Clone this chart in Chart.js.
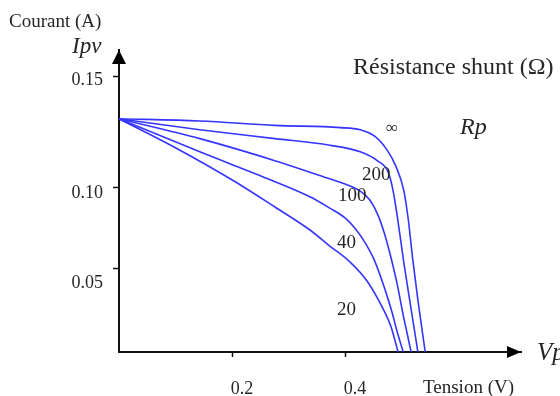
<!DOCTYPE html>
<html>
<head>
<meta charset="utf-8">
<script src="https://cdn.jsdelivr.net/npm/chart.js@4/dist/chart.umd.min.js"></script>
<style>
  body { margin: 0; background: #fff; }
  canvas { display: block; }
</style>
</head>
<body>
<canvas id="ipv" width="560" height="396"></canvas>
<script>
// Shunt resistance values (one curve each)
const shuntLabels = ['∞', '200', '100', '40', '20'];

// Tension (V) and Courant (A), per curve
const vInf = [0, 0.143, 0.276, 0.391, 0.427, 0.453, 0.474, 0.490, 0.504, 0.512, 0.520, 0.529, 0.542];
const iInf = [0.131, 0.130, 0.128, 0.127, 0.126, 0.123, 0.117, 0.1095, 0.098, 0.080, 0.055, 0.031, 0];

const v200 = [0, 0.143, 0.276, 0.373, 0.427, 0.457, 0.476, 0.485, 0.494, 0.504, 0.515, 0.529];
const i200 = [0.131, 0.126, 0.122, 0.119, 0.116, 0.112, 0.107, 0.098, 0.0784, 0.0537, 0.0298, 0];

const v100 = [0, 0.143, 0.276, 0.370, 0.400, 0.427, 0.444, 0.458, 0.471, 0.481, 0.492, 0.503, 0.510, 0.517];
const i100 = [0.131, 0.122, 0.112, 0.104, 0.1014, 0.0975, 0.092, 0.083, 0.070, 0.057, 0.041, 0.022, 0.011, 0];

const v40 = [0, 0.143, 0.271, 0.338, 0.373, 0.400, 0.418, 0.435, 0.453, 0.471, 0.483, 0.492, 0.503];
const i40 = [0.131, 0.116, 0.103, 0.094, 0.087, 0.081, 0.0745, 0.066, 0.054, 0.037, 0.024, 0.0125, 0];

const v20 = [0, 0.099, 0.202, 0.276, 0.338, 0.373, 0.409, 0.439, 0.467, 0.481, 0.494];
const i20 = [0.131, 0.118, 0.103, 0.0877, 0.0735, 0.0636, 0.0537, 0.0423, 0.026, 0.0155, 0];

const xTicks = [0.2, 0.4];
const yTicks = [0.05, 0.10, 0.15];

// The hand-drawn axis is not evenly spaced: 0.15 sits higher than a linear axis would put it.
// Value -> fraction of the axis height, piecewise linear.
const yBreaks = [0, 0.05, 0.10, 0.15, 0.162];
const yStops = [0, 0.278, 0.546, 0.911, 1];

function toStop(v) {
    for (let k = 1; k < yBreaks.length; k++) {
        if (v <= yBreaks[k] || k === yBreaks.length - 1) {
            const t = (v - yBreaks[k - 1]) / (yBreaks[k] - yBreaks[k - 1]);
            return yStops[k - 1] + t * (yStops[k] - yStops[k - 1]);
        }
    }
}
function fromStop(d) {
    for (let k = 1; k < yStops.length; k++) {
        if (d <= yStops[k] || k === yStops.length - 1) {
            const t = (d - yStops[k - 1]) / (yStops[k] - yStops[k - 1]);
            return yBreaks[k - 1] + t * (yBreaks[k] - yBreaks[k - 1]);
        }
    }
}

class StretchScale extends Chart.LinearScale {
    getPixelForValue(value) {
        return this.getPixelForDecimal(toStop(value));
    }
    getValueForPixel(pixel) {
        return fromStop(this.getDecimalForPixel(pixel));
    }
}
StretchScale.id = 'stretch';
StretchScale.defaults = Chart.LinearScale.defaults;
Chart.register(StretchScale);

const pairs = (vs, is) => vs.map((v, k) => ({ x: v, y: is[k] }));
const curves = [pairs(vInf, iInf), pairs(v200, i200), pairs(v100, i100), pairs(v40, i40), pairs(v20, i20)];

const serif = '"Liberation Serif", "Times New Roman", serif';
const ink = '#262626';

// Arrow heads and the free text of the sketch
const sketchText = {
    id: 'sketchText',
    afterDraw(chart) {
        const ctx = chart.ctx;
        const a = chart.chartArea;
        const yScale = chart.scales.y;
        ctx.save();
        ctx.fillStyle = '#000';
        // up arrow on the current axis
        ctx.beginPath();
        ctx.moveTo(a.left, a.top);
        ctx.lineTo(a.left - 7, a.top + 14);
        ctx.lineTo(a.left + 7, a.top + 14);
        ctx.closePath();
        ctx.fill();
        // right arrow on the voltage axis
        ctx.beginPath();
        ctx.moveTo(a.right, a.bottom);
        ctx.lineTo(a.right - 14, a.bottom - 6);
        ctx.lineTo(a.right - 14, a.bottom + 6);
        ctx.closePath();
        ctx.fill();

        ctx.fillStyle = ink;
        ctx.textBaseline = 'middle';
        ctx.textAlign = 'left';
        const put = (txt, x, y, size, italic) => {
            ctx.font = (italic ? 'italic ' : '') + size + 'px ' + serif;
            ctx.fillText(txt, x, y);
        };
        put('Courant (A)', 9, 22, 19);
        put('Ipv', 72, 47, 23, true);
        put('Résistance shunt (Ω)', 353, 68, 24);
        put('Rp', 460, 128, 24, true);
        put('Tension (V)', 423, 388, 19);
        put('Vp', 537, 353, 25, true);

        // current tick labels: hand placed a bit below their ticks, unevenly
        const drop = [15, 6, 3];
        ctx.textAlign = 'right';
        ctx.font = '18px ' + serif;
        yTicks.forEach((v, k) => {
            ctx.fillText(v.toFixed(2), a.left - 16, yScale.getPixelForValue(v) + drop[k]);
        });

        // resistance of each curve
        ctx.textAlign = 'left';
        const spots = [[386, 129, 17], [362, 175, 19], [338, 196, 19], [337, 243, 19], [337, 310, 19]];
        shuntLabels.forEach((lab, k) => put(lab, spots[k][0], spots[k][1], spots[k][2]));
        ctx.restore();
    }
};

new Chart(document.getElementById('ipv'), {
    type: 'line',
    data: {
        datasets: curves.map((pts, k) => ({
            label: shuntLabels[k],
            data: pts,
            borderColor: '#3535ff',
            borderWidth: 1.6,
            pointRadius: 0,
            fill: false,
            cubicInterpolationMode: 'monotone'
        }))
    },
    options: {
        responsive: false,
        animation: false,
        devicePixelRatio: 1,
        layout: { padding: { left: 0, top: 50, right: 39, bottom: 0 } },
        plugins: { legend: { display: false }, tooltip: { enabled: false } },
        scales: {
            x: {
                type: 'linear',
                min: 0,
                max: 0.7115,
                afterBuildTicks: s => { s.ticks = xTicks.map(v => ({ value: v })); },
                afterFit: s => { s.height = 44; },
                border: { display: true, color: '#111', width: 2 },
                grid: { drawOnChartArea: false, drawTicks: true, tickLength: 5, tickColor: '#111', tickWidth: 1.5 },
                ticks: {
                    color: ink,
                    font: { family: serif, size: 18 },
                    padding: 21,
                    labelOffset: 10,
                    maxRotation: 0,
                    callback: v => v.toFixed(1)
                }
            },
            y: {
                type: 'stretch',
                min: 0,
                max: 0.162,
                afterBuildTicks: s => { s.ticks = yTicks.map(v => ({ value: v })); },
                afterFit: s => { s.width = 119; },
                border: { display: true, color: '#111', width: 2 },
                grid: { drawOnChartArea: false, drawTicks: true, tickLength: 6, tickColor: '#111', tickWidth: 1.5 },
                ticks: {
                    display: false
                }
            }
        }
    },
    plugins: [sketchText]
});
</script>
</body>
</html>
